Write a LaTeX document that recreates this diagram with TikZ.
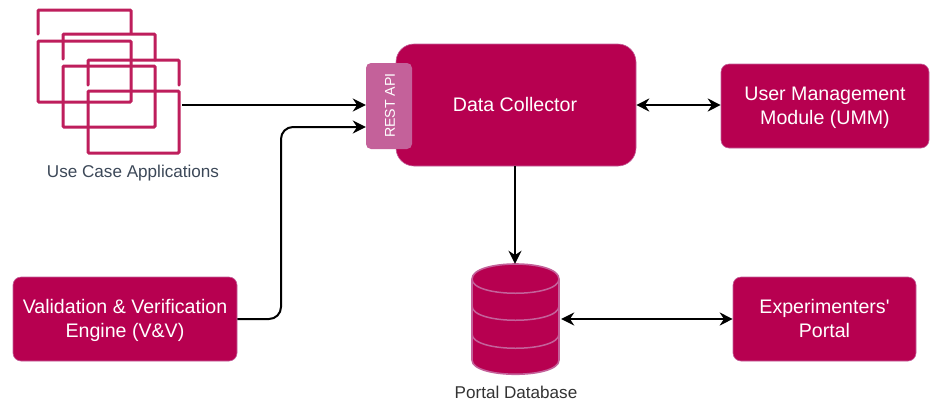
\documentclass[tikz,border=0pt]{standalone}
\usepackage{fontspec}
\setmainfont{Liberation Sans}
\usetikzlibrary{arrows.meta}
\definecolor{mainc}{HTML}{B70050}
\definecolor{lightc}{HTML}{C4619A}
\definecolor{framec}{HTML}{BE1E5C}
\definecolor{capc}{HTML}{3C4858}
\newcommand{\toprule}{\rule{0pt}{19.2pt}}
\tikzset{
  x=1pt,y=-1pt,
  box/.style={draw=lightc,line width=0.6pt,fill=mainc,rounded corners=8pt,text=white,align=center,inner sep=0pt,font=\fontsize{19.6}{24}\selectfont},
  apibox/.style={fill=lightc,rounded corners=5pt,text=white,inner sep=0pt,minimum width=46pt,minimum height=86pt},
  win/.style={draw=framec,line width=3pt,rounded corners=1pt,line cap=round},
  conn/.style={draw=black,line width=2pt,-{Stealth[length=13pt,width=13pt]}},
  biconn/.style={draw=black,line width=2pt,{Stealth[length=13pt,width=13pt]}-{Stealth[length=13pt,width=13pt]}},
  caption/.style={inner sep=0pt,font=\fontsize{17.1}{20}\selectfont},
  dbline/.style={draw=lightc,line width=1.5pt}
}
\begin{document}
\begin{tikzpicture}
\useasboundingbox[fill=white] (0,0) rectangle (935,400);
% application windows
\draw[win] (38,34) -- (38,10) -- (131,10) -- (131,33);
\draw[win] (38,41) rectangle (131,102);
\draw[win] (63,59) -- (63,34) -- (155,34) -- (155,60);
\draw[win] (63,66) rectangle (155,127);
\draw[win] (88,85) -- (88,60) -- (179,60) -- (179,85);
\draw[win] (88,91) rectangle (179,153);
\coordinate (apps) at (182,105);
\node[caption,text=capc] (appslabel) at (133,173) {Use Case Applications};
% boxes
\node[box,rounded corners=18pt,minimum width=240pt,minimum height=122pt] (dc) at (516,105) {};
\node[text=white,inner sep=0pt,font=\fontsize{19.6}{25}\selectfont] (dclabel) at (515,104) {Data Collector};
\node[apibox] (api) at (389,106) {};
\node[text=white,rotate=90,inner sep=0pt,font=\fontsize{14.2}{18}\selectfont] (apilabel) at (390,105.5) {REST API};
\node[box,minimum width=208pt,minimum height=84pt] (umm) at (825,106) {\toprule User Management\\Module (UMM)\strut};
\node[box,minimum width=224pt,minimum height=84pt] (vv) at (125,319) {\toprule Validation \& Verification\\Engine (V\&V)\strut};
\node[box,minimum width=183pt,minimum height=84pt] (exp) at (824.5,319) {\toprule Experimenters\textquotesingle\\Portal\strut};
% database
\draw[draw=lightc,line width=1.6pt,fill=mainc] (472,279) .. controls (472,259) and (559,259) .. (559,279)
  -- (559,360) .. controls (559,379) and (472,379) .. (472,360) -- cycle;
\draw[dbline] (472,279) .. controls (472,298) and (559,298) .. (559,279);
\draw[dbline] (472,306) .. controls (472,325) and (559,325) .. (559,306);
\draw[dbline] (472,334) .. controls (472,353) and (559,353) .. (559,334);
\node[inner sep=0pt,minimum width=87pt,minimum height=110pt] (db) at (515.5,319) {};
\node[caption,text=black!80] (dblabel) at (516,392) {Portal Database};
% connectors
\draw[conn] (apps) -- (api.west |- apps);
\draw[conn,rounded corners=12pt] (vv.east) -- (281,319) -- (281,127) -- (api.west |- 0,127);
\draw[biconn] (dc.east) -- (umm.west |- dc.east);
\draw[conn] (dc.south -| 515,0) -- (db.north -| 515,0);
\draw[biconn] ([xshift=2pt]db.east) -- (exp.west);
\end{tikzpicture}
\end{document}
